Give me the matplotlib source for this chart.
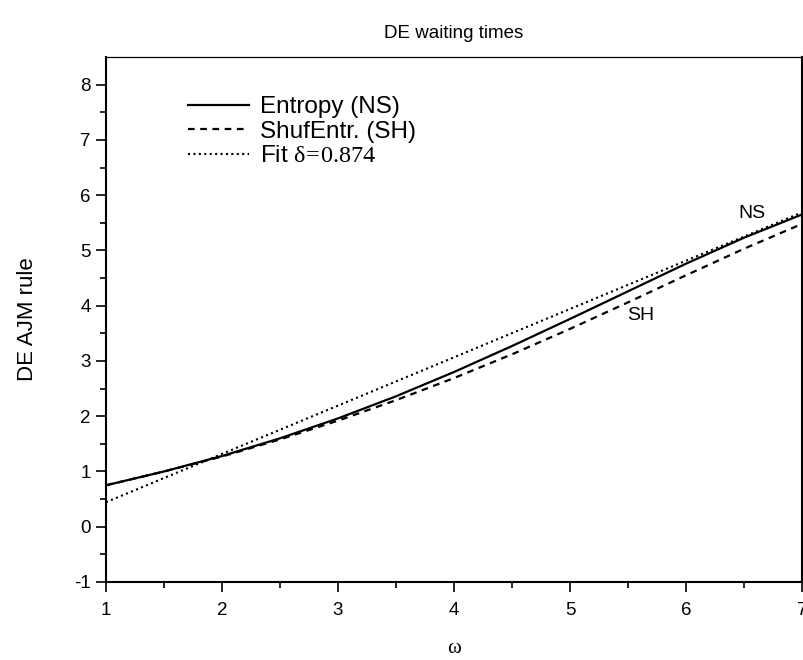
import matplotlib
matplotlib.use('Agg')
import matplotlib.pyplot as plt
import numpy as np

plt.rcParams['font.family'] = ['Liberation Sans', 'DejaVu Sans']
plt.rcParams['mathtext.fontset'] = 'custom'
plt.rcParams['mathtext.rm'] = 'Liberation Serif'
plt.rcParams['axes.unicode_minus'] = False

# waiting-time exponent vs omega
omega = [1.0, 1.5, 2.0, 2.5, 3.0, 3.5, 4.0, 4.5, 5.0, 5.5, 6.0, 6.5, 7.0]
entropy_ns = [0.75, 1.00, 1.28, 1.60, 1.96, 2.36, 2.80, 3.27, 3.76, 4.26, 4.76, 5.23, 5.65]
shuf_sh = [0.75, 1.00, 1.27, 1.58, 1.92, 2.29, 2.69, 3.12, 3.58, 4.06, 4.55, 5.03, 5.48]

delta = 0.874
fit_intercept = -0.43
fit_x = np.array([1.0, 7.0])
fit_y = delta * fit_x + fit_intercept

fig = plt.figure(figsize=(8.04, 6.6), dpi=100)
ax = fig.add_axes([106/804, 78/660, 696/804, 525/660])

ax.plot(omega, entropy_ns, color='k', lw=1.6, label='Entropy (NS)')
ax.plot(omega, shuf_sh, color='k', lw=1.6, ls=(0, (3, 2.5)), label='ShufEntr. (SH)')
ax.plot(fit_x, fit_y, color='k', lw=1.5, ls=(0, (1, 1.6)),
        label=r'Fit $\mathrm{\delta\!=\!0.874}$')

ax.text(6.57, 5.67, 'NS', fontsize=14, ha='center', va='center')
ax.text(5.61, 3.83, 'SH', fontsize=14, ha='center', va='center')

ax.set_xlim(1, 7)
ax.set_ylim(-1, 8.5)
ax.set_xticks(range(1, 8))
ax.set_yticks(range(-1, 9))
ax.set_xticks(np.arange(1.5, 7, 1), minor=True)
ax.set_yticks(np.arange(-0.5, 8.5, 1), minor=True)
ax.tick_params(which='major', direction='out', length=7.5, width=1.2,
               labelsize=13.5, top=False, right=False)
ax.tick_params(axis='x', which='major', pad=7)
ax.tick_params(which='minor', direction='out', length=4, width=1.2,
               top=False, right=False)

for side in ['left', 'bottom', 'right']:
    ax.spines[side].set_linewidth(1.5)
ax.spines['top'].set_linewidth(0.9)

ax.set_title('DE waiting times', fontsize=13.5, pad=14)
ax.set_ylabel('DE AJM rule', fontsize=16, labelpad=26)
ax.set_xlabel('ω', fontsize=15, family='Liberation Serif', labelpad=14)

ax.legend(loc='upper left', bbox_to_anchor=(0.118, 0.925), frameon=False,
          fontsize=17.5, handlelength=2.5, handletextpad=0.45,
          labelspacing=0.1, borderpad=0, borderaxespad=0)

fig.savefig('out.png', dpi=100)
